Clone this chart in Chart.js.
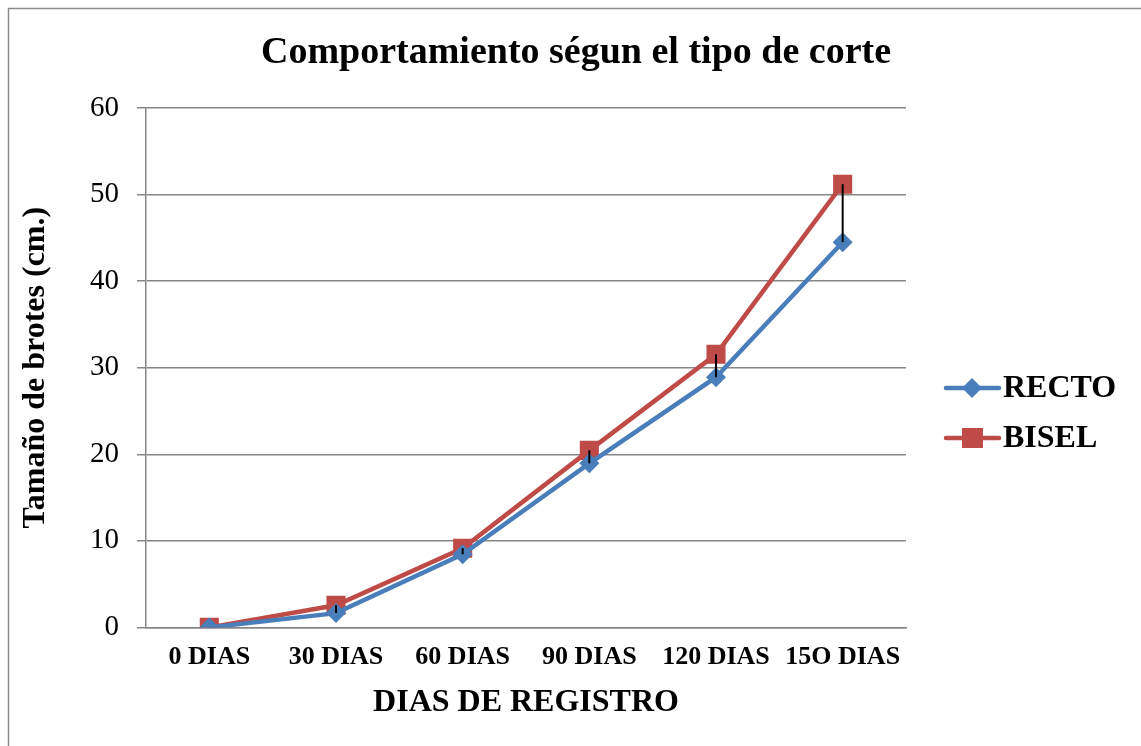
<!DOCTYPE html>
<html>
<head>
<meta charset="utf-8">
<script src="https://cdn.jsdelivr.net/npm/chart.js@4.4.1/dist/chart.umd.min.js"></script>
<style>
html,body{margin:0;padding:0;background:#fff;}
#wrap{position:relative;width:1141px;height:746px;}
</style>
</head>
<body>
<div id="wrap"><canvas id="c" width="1141" height="746"></canvas></div>
<script>
const categories = ["0 DIAS", "30 DIAS", "60 DIAS", "90 DIAS", "120 DIAS", "15O DIAS"];
const rectoValues = [0, 1.65, 8.45, 18.95, 28.9, 44.5];
const biselValues = [0, 2.55, 9.15, 20.45, 31.55, 51.2];
const yTicks = [0, 10, 20, 30, 40, 50, 60];
const seriesNames = ["RECTO", "BISEL"];
const titleText = "Comportamiento ségun el tipo de corte";
const yTitle = "Tamaño de brotes (cm.)";
const xTitle = "DIAS DE REGISTRO";

const BLUE = "#4A7EBB", RED = "#BE4B48", GRID = "#868686";
const FONT = "'Liberation Serif', 'Times New Roman', serif";

const framePlugin = {
  id: 'frame',
  beforeDraw(chart) {
    const ctx = chart.ctx;
    ctx.save();
    ctx.fillStyle = '#fff';
    ctx.fillRect(0, 0, chart.width, chart.height);
    ctx.strokeStyle = '#8c8c8c';
    ctx.lineWidth = 1.5;
    ctx.strokeRect(8.5, 8.5, 1300, 900);
    ctx.fillStyle = '#000';
    ctx.font = "bold 38px " + FONT;
    ctx.textAlign = 'center';
    ctx.textBaseline = 'middle';
    ctx.fillText(titleText, 576, 53);
    ctx.restore();
  }
};

const hiLoPlugin = {
  id: 'hilo',
  afterDatasetsDraw(chart) {
    const ctx = chart.ctx;
    const m0 = chart.getDatasetMeta(0).data;
    const m1 = chart.getDatasetMeta(1).data;
    ctx.save();
    ctx.strokeStyle = '#000';
    ctx.lineWidth = 2;
    for (let i = 0; i < m0.length; i++) {
      ctx.beginPath();
      ctx.moveTo(m1[i].x, m1[i].y);
      ctx.lineTo(m0[i].x, m0[i].y);
      ctx.stroke();
    }
    ctx.restore();
  }
};

const legendPlugin = {
  id: 'customLegend',
  afterDraw(chart) {
    const ctx = chart.ctx;
    const rows = [388, 438];
    ctx.save();
    chart.data.datasets.forEach((ds, i) => {
      const y = rows[i];
      ctx.strokeStyle = ds.borderColor;
      ctx.lineWidth = 4.5;
      ctx.lineCap = 'round';
      ctx.beginPath();
      ctx.moveTo(946, y);
      ctx.lineTo(999, y);
      ctx.stroke();
      ctx.fillStyle = ds.backgroundColor;
      ctx.beginPath();
      if (ds.pointStyle === 'rectRot') {
        ctx.moveTo(972, y - 10); ctx.lineTo(982, y); ctx.lineTo(972, y + 10); ctx.lineTo(962, y);
      } else {
        ctx.rect(962, y - 10, 21, 20);
      }
      ctx.closePath();
      ctx.fill();
      ctx.fillStyle = '#000';
      ctx.font = "bold 32px " + FONT;
      ctx.textBaseline = 'middle';
      ctx.textAlign = 'left';
      ctx.fillText(ds.label, 1003, y + 1);
    });
    ctx.restore();
  }
};

new Chart(document.getElementById('c'), {
  type: 'line',
  data: {
    labels: categories,
    datasets: [
      { label: seriesNames[0], data: rectoValues, borderColor: BLUE, backgroundColor: BLUE,
        borderWidth: 4.5, pointStyle: 'rectRot', pointRadius: 10, pointHoverRadius: 10,
        pointBorderWidth: 0, tension: 0 },
      { label: seriesNames[1], data: biselValues, borderColor: RED, backgroundColor: RED,
        borderWidth: 4.5, pointStyle: 'rect', pointRadius: 13.5, pointHoverRadius: 13.5,
        pointBorderWidth: 0, tension: 0 }
    ]
  },
  options: {
    responsive: false,
    animation: false,
    events: [],
    layout: { padding: { left: 17, right: 235, top: 108, bottom: 24 } },
    plugins: {
      legend: { display: false },
      tooltip: { enabled: false },
      title: { display: false }
    },
    scales: {
      x: {
        offset: true,
        grid: { display: false, drawTicks: false },
        border: { display: true, color: GRID, width: 1.5 },
        ticks: { color: '#000', font: { family: FONT, size: 26, weight: 'bold' }, padding: 14, maxRotation: 0, autoSkip: false },
        title: { display: true, text: xTitle, color: '#000', font: { family: FONT, size: 32, weight: 'bold' }, padding: { top: -3, bottom: 0 } }
      },
      y: {
        min: 0, max: 60,
        afterBuildTicks(scale) { scale.ticks = yTicks.map(v => ({ value: v })); },
        afterFit(scale) { scale.width = 129; },
        grid: { color: GRID, lineWidth: 1.5, tickLength: 9, drawTicks: true },
        border: { display: true, color: GRID, width: 1.5 },
        ticks: { color: '#000', font: { family: FONT, size: 29 }, padding: 18 },
        title: { display: true, text: yTitle, color: '#000', font: { family: FONT, size: 32, weight: 'bold' }, padding: { top: 0, bottom: 0 } }
      }
    }
  },
  plugins: [framePlugin, hiLoPlugin, legendPlugin]
});
</script>
</body>
</html>
